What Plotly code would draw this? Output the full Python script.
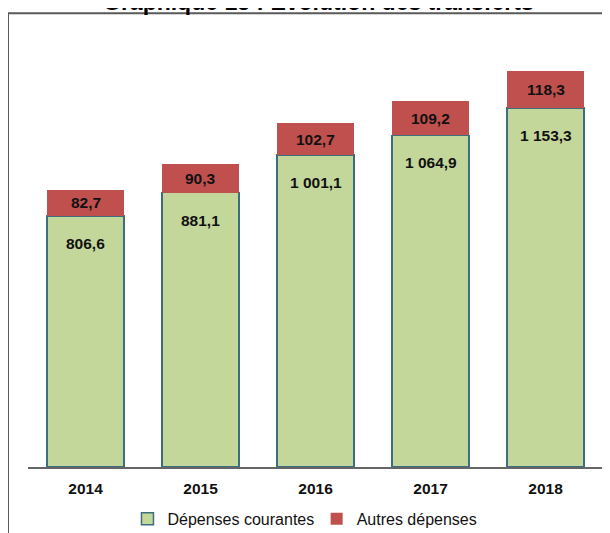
import plotly.graph_objects as go

years = ["2014", "2015", "2016", "2017", "2018"]
courantes = [806.6, 881.1, 1001.1, 1064.9, 1153.3]
autres = [82.7, 90.3, 102.7, 109.2, 118.3]

title_text = "Graphique 15 : Evolution des transferts"
FONT = "Liberation Sans, Arial, sans-serif"

GREEN = "#C4D79B"
GREEN_LINE = "#3D6E80"
RED = "#C0504D"

fig = go.Figure()
fig.add_trace(go.Bar(
    x=years, y=courantes, name="Dépenses courantes",
    marker=dict(color=GREEN, line=dict(color=GREEN_LINE, width=1.5)),
    legend="legend", hoverinfo="skip",
))
fig.add_trace(go.Bar(
    x=years, y=autres, name="Autres dépenses",
    marker=dict(color=RED, line=dict(color=RED, width=0)),
    legend="legend2", hoverinfo="skip",
))

annotations = []
for i, (g, r) in enumerate(zip(courantes, autres)):
    gl = f"{g:,.1f}".replace(",", " ").replace(".", ",")
    rl = f"{r:,.1f}".replace(",", " ").replace(".", ",")
    annotations.append(dict(x=i, y=g, xref="x", yref="y", text=f"<b>{gl}</b>",
                            showarrow=False, yanchor="top", yshift=-17,
                            font=dict(family=FONT, size=15.5, color="#111")))
    annotations.append(dict(x=i, y=g + r / 2, xref="x", yref="y", text=f"<b>{rl}</b>",
                            showarrow=False, yanchor="middle",
                            font=dict(family=FONT, size=15.5, color="#111")))

annotations.append(dict(x=0.505, y=1.067, xref="paper", yref="paper",
                        text=f"<b>{title_text}</b>", showarrow=False,
                        xanchor="center", yanchor="middle",
                        font=dict(family=FONT, size=23, color="#000")))

fig.update_layout(
    width=610, height=533,
    margin=dict(l=20, r=15, t=23, b=74, autoexpand=False),
    paper_bgcolor="white", plot_bgcolor="white",
    barmode="stack", bargap=0.33,
    font=dict(family=FONT, size=15, color="#111"),
    showlegend=True,
    legend=dict(orientation="h", x=0.173, xanchor="left", y=-0.119, yanchor="middle",
                font=dict(family=FONT, size=16, color="#111"), itemwidth=30,
                bgcolor="rgba(0,0,0,0)"),
    legend2=dict(orientation="h", x=0.502, xanchor="left", y=-0.119, yanchor="middle",
                 font=dict(family=FONT, size=16, color="#111"), itemwidth=30,
                 bgcolor="rgba(0,0,0,0)"),
    xaxis=dict(type="category", range=[-0.5, 4.5], showline=True, linecolor="#666",
               linewidth=1.5, ticks="", automargin=False,
               tickfont=dict(family=FONT, size=15.5, color="#111", weight="bold"),
               ticklabelstandoff=7,
               showgrid=False, zeroline=False, fixedrange=True),
    yaxis=dict(range=[0, 1400], visible=False, showgrid=False, zeroline=False,
               fixedrange=True, automargin=False),
    annotations=annotations,
    shapes=[dict(type="rect", xref="paper", yref="paper",
                 x0=-0.0348, x1=1.05, y0=-0.3, y1=1.0409,
                 line=dict(color="#595959", width=2), fillcolor="rgba(0,0,0,0)",
                 layer="below")],
)

fig.write_html("out.html")
